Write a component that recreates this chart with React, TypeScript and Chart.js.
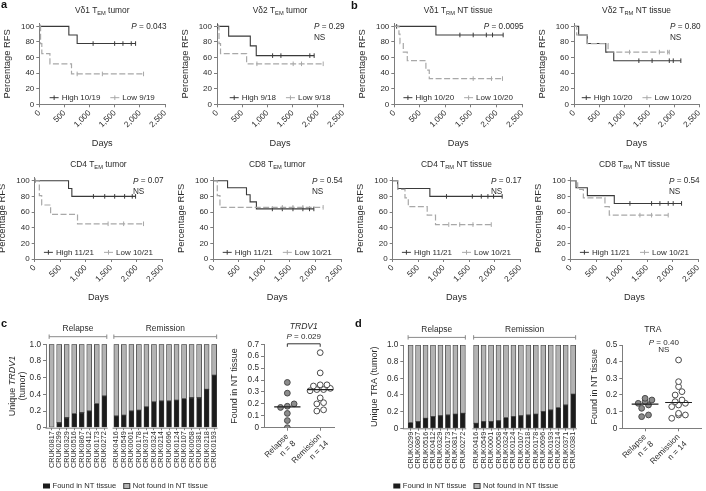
import React, { useEffect, useRef } from 'react';
import { Chart, registerables } from 'chart.js';
Chart.register(...registerables);

const FONT = '"Liberation Sans", Arial, Helvetica, sans-serif';
const TXT = '#2b2b2b';
const AXC = '#7d7d7d';
const HIGH_C = '#3a3a3a';
const LOW_C = '#a8a8a8';

// ---------- Kaplan–Meier data ----------
const kmXTicks = [0, 500, 1000, 1500, 2000, 2500];
const kmYTicks = [0, 20, 40, 60, 80, 100];

const a1HighDays = [0, 587, 752, 1913];
const a1HighPct = [100, 89, 78, 78];
const a1HighCens = [1069, 1497, 1662, 1827, 1913];
const a1LowDays = [0, 25, 50, 211, 640, 2071];
const a1LowPct = [100, 78, 65, 52, 39, 39];
const a1LowCens = [15, 752, 1253, 2071];

const a2HighDays = [0, 231, 660, 778, 1926];
const a2HighPct = [100, 87.5, 75, 62.5, 62.5];
const a2HighCens = [15, 1102, 1267, 1840, 1926];
const a2LowDays = [0, 40, 70, 587, 2105];
const a2LowPct = [100, 78, 65, 52, 52];
const a2LowCens = [791, 1510, 1675, 2105];

const b1HighDays = [0, 814, 2129];
const b1HighPct = [100, 89, 89];
const b1HighCens = [46, 1283, 1543, 1800, 1921, 2129];
const b1LowDays = [0, 91, 111, 176, 254, 618, 684, 2116];
const b1LowPct = [100, 90, 78, 67, 56, 44, 33, 33];
const b1LowCens = [1543, 1901, 2116];

const b2HighDays = [0, 93, 264, 635, 794, 2135];
const b2HighPct = [100, 89, 78, 67, 56, 56];
const b2HighCens = [1296, 1560, 1904, 1983, 2135];
const b2LowDays = [0, 53, 264, 681, 1904];
const b2LowPct = [100, 89, 78, 67, 67];
const b2LowCens = [1110, 1706, 1871, 1904];

const a3HighDays = [0, 664, 729, 1979];
const a3HighPct = [100, 90, 80, 80];
const a3HighCens = [1152, 1374, 1569, 1764, 1914, 1979];
const a3LowDays = [0, 91, 137, 312, 840, 2135];
const a3LowPct = [100, 81, 69, 57, 45, 45];
const a3LowCens = [15, 1440, 1745, 2135];

const a4HighDays = [0, 279, 649, 720, 843, 1967];
const a4HighPct = [100, 91, 82, 73, 64, 64];
const a4HighCens = [1155, 1350, 1558, 1752, 1882, 1967];
const a4LowDays = [0, 78, 130, 2148];
const a4LowPct = [100, 81, 66, 66];
const a4LowCens = [1350, 1558, 1752, 2148];

const b3HighDays = [0, 98, 729, 2148];
const b3HighPct = [100, 90, 80, 80];
const b3HighCens = [1055, 1562, 1738, 1868, 1979, 2148];
const b3LowDays = [0, 98, 241, 306, 677, 840, 1934];
const b3LowPct = [100, 89, 78, 67, 56, 44, 44];
const b3LowCens = [1100, 1315, 1575, 1934];

const b4HighDays = [0, 104, 327, 855, 2175];
const b4HighPct = [100, 91, 81, 71, 71];
const b4HighCens = [1162, 1587, 1750, 1913, 2011, 2175];
const b4LowDays = [0, 137, 248, 672, 757, 1913];
const b4LowPct = [100, 89, 78, 67, 56, 56];
const b4LowCens = [1358, 1587, 1913];

// ---------- c / d data ----------
const cRelapseIds = ['CRUK0817', 'CRUK0299', 'CRUK0329', 'CRUK0516', 'CRUK0867', 'CRUK0412', 'CRUK0173', 'CRUK0272'];
const cRelapseFound = [0, 0.06, 0.12, 0.17, 0.18, 0.2, 0.29, 0.38];
const cRemissionIds = ['CRUK0416', 'CRUK0549', 'CRUK0001', 'CRUK0178', 'CRUK0371', 'CRUK0324', 'CRUK0214', 'CRUK0696', 'CRUK0124', 'CRUK0107', 'CRUK0058', 'CRUK0381', 'CRUK0218', 'CRUK0193'];
const cRemissionFound = [0.14, 0.15, 0.2, 0.21, 0.25, 0.31, 0.32, 0.32, 0.33, 0.35, 0.36, 0.36, 0.46, 0.63];

const dRelapseIds = ['CRUK0299', 'CRUK0867', 'CRUK0516', 'CRUK0412', 'CRUK0329', 'CRUK0173', 'CRUK0817', 'CRUK0272'];
const dRelapseFound = [0.07, 0.08, 0.12, 0.14, 0.15, 0.16, 0.17, 0.18];
const dRemissionIds = ['CRUK0416', 'CRUK0549', 'CRUK0001', 'CRUK0058', 'CRUK0324', 'CRUK0124', 'CRUK0107', 'CRUK0218', 'CRUK0178', 'CRUK0696', 'CRUK0193', 'CRUK0214', 'CRUK0371', 'CRUK0381'];
const dRemissionFound = [0.06, 0.08, 0.08, 0.09, 0.13, 0.14, 0.15, 0.16, 0.17, 0.2, 0.22, 0.25, 0.28, 0.41];

const barYTicks = [0, 0.2, 0.4, 0.6, 0.8, 1.0];
const cDotYTicks = [0, 0.1, 0.2, 0.3, 0.4, 0.5, 0.6, 0.7];
const dDotYTicks = [0, 0.1, 0.2, 0.3, 0.4, 0.5];

// ---------- text helpers ----------
type Seg = { t: string; i?: boolean; s?: boolean };
function segFont(seg: Seg, size: number) {
  const sz = seg.s ? size * 0.68 : size;
  return `${seg.i ? 'italic ' : ''}${sz}px ${FONT}`;
}
function measureRich(ctx: any, segs: Seg[], size: number) {
  let w = 0;
  for (const s of segs) { ctx.font = segFont(s, size); w += ctx.measureText(s.t).width; }
  return w;
}
function drawRich(ctx: any, segs: Seg[], x: number, y: number, size: number, align: string, color = TXT) {
  const w = measureRich(ctx, segs, size);
  let cx = align === 'center' ? x - w / 2 : align === 'right' ? x - w : x;
  ctx.fillStyle = color; ctx.textAlign = 'left'; ctx.textBaseline = 'middle';
  for (const s of segs) {
    ctx.font = segFont(s, size);
    ctx.fillText(s.t, cx, s.s ? y + size * 0.3 : y);
    cx += ctx.measureText(s.t).width;
  }
  return w;
}
const f = (size: number, style = 'normal') => ({ family: FONT, size, style });

function frameBox(frame: number[], yw: number, padT: number, padR: number, xh: number) {
  const [l, t, r, b] = frame;
  const cl = Math.floor(l - yw); const ct = Math.floor(t - padT);
  const cw = Math.ceil(r + padR) - cl; const ch = Math.ceil(b + xh) - ct;
  return { cl, ct, cw, ch, yw: l - cl, padT: t - ct, padR: cl + cw - r, xh: ct + ch - b };
}

const commonOpts = { responsive: false, animation: false, events: [], devicePixelRatio: 1 };
const axisBase = (tl = 3) => ({
  grid: { display: true, drawOnChartArea: false, drawTicks: true, tickLength: tl, color: AXC, lineWidth: 1 },
  border: { display: true, color: AXC, width: 1 },
});

// ---------- KM panels ----------
// frame = plot area [left, top(=104%), right, bottom(=0%)]
const kmFrames: any = {
  a1: [39.3, 23.3, 165.7, 104.3], a2: [217, 23.3, 343.3, 104.3],
  b1: [394.3, 23.3, 522.3, 104.3], b2: [574, 23.3, 700, 104.3],
  a3: [34.7, 177.6, 162.7, 259], a4: [213.3, 177.6, 341.7, 259],
  b3: [392.7, 177.6, 520.7, 259], b4: [570.7, 177.6, 698.3, 259],
};

const kmPanels = [
  { key: 'a1', title: [{ t: 'Vδ1 T' }, { t: 'EM', s: true }, { t: ' tumor' }], p: '0.043', ns: false, hl: 'High 10/19', ll: 'Low 9/19', hd: a1HighDays, hp: a1HighPct, hc: a1HighCens, ld: a1LowDays, lp: a1LowPct, lc: a1LowCens },
  { key: 'a2', title: [{ t: 'Vδ2 T' }, { t: 'EM', s: true }, { t: ' tumor' }], p: '0.29', ns: true, hl: 'High 9/18', ll: 'Low 9/18', hd: a2HighDays, hp: a2HighPct, hc: a2HighCens, ld: a2LowDays, lp: a2LowPct, lc: a2LowCens },
  { key: 'b1', title: [{ t: 'Vδ1 T' }, { t: 'RM', s: true }, { t: ' NT tissue' }], p: '0.0095', ns: false, hl: 'High 10/20', ll: 'Low 10/20', hd: b1HighDays, hp: b1HighPct, hc: b1HighCens, ld: b1LowDays, lp: b1LowPct, lc: b1LowCens },
  { key: 'b2', title: [{ t: 'Vδ2 T' }, { t: 'RM', s: true }, { t: ' NT tissue' }], p: '0.80', ns: true, hl: 'High 10/20', ll: 'Low 10/20', hd: b2HighDays, hp: b2HighPct, hc: b2HighCens, ld: b2LowDays, lp: b2LowPct, lc: b2LowCens },
  { key: 'a3', title: [{ t: 'CD4 T' }, { t: 'EM', s: true }, { t: ' tumor' }], p: '0.07', ns: true, hl: 'High 11/21', ll: 'Low 10/21', hd: a3HighDays, hp: a3HighPct, hc: a3HighCens, ld: a3LowDays, lp: a3LowPct, lc: a3LowCens },
  { key: 'a4', title: [{ t: 'CD8 T' }, { t: 'EM', s: true }, { t: ' tumor' }], p: '0.54', ns: true, hl: 'High 11/21', ll: 'Low 10/21', hd: a4HighDays, hp: a4HighPct, hc: a4HighCens, ld: a4LowDays, lp: a4LowPct, lc: a4LowCens },
  { key: 'b3', title: [{ t: 'CD4 T' }, { t: 'RM', s: true }, { t: ' NT tissue' }], p: '0.17', ns: true, hl: 'High 11/21', ll: 'Low 10/21', hd: b3HighDays, hp: b3HighPct, hc: b3HighCens, ld: b3LowDays, lp: b3LowPct, lc: b3LowCens },
  { key: 'b4', title: [{ t: 'CD8 T' }, { t: 'RM', s: true }, { t: ' NT tissue' }], p: '0.54', ns: true, hl: 'High 11/21', ll: 'Low 10/21', hd: b4HighDays, hp: b4HighPct, hc: b4HighCens, ld: b4LowDays, lp: b4LowPct, lc: b4LowCens },
];

function survAt(days: number[], pct: number[], t: number) {
  let v = pct[0];
  for (let i = 0; i < days.length; i++) if (days[i] <= t) v = pct[i];
  return v;
}

function kmBox(p: any) {
  return frameBox(kmFrames[p.key], 40, 24, 7, 47);
}

function kmConfig(p: any) {
  const bx = kmBox(p);
  const hi = p.hd.map((d: number, i: number) => ({ x: d, y: p.hp[i] }));
  const lo = p.ld.map((d: number, i: number) => ({ x: d, y: p.lp[i] }));
  const hiC = p.hc.map((d: number) => ({ x: d, y: survAt(p.hd, p.hp, d) }));
  const loC = p.lc.map((d: number) => ({ x: d, y: survAt(p.ld, p.lp, d) }));
  const cens = (data: any, color: string) => ({
    data, showLine: false, pointStyle: 'line', pointRotation: 90, pointRadius: 2.3,
    pointBorderColor: color, pointBackgroundColor: color, pointBorderWidth: 1, clip: false,
  });
  const plugin = {
    id: 'kmDecor',
    afterDraw(chart: any) {
      const { ctx, chartArea: a, scales } = chart;
      const ys = scales.y;
      ctx.save();
      drawRich(ctx, p.title, (a.left + a.right) / 2, a.top - 12.5, 8.4, 'center');
      const py = ys.getPixelForValue(100) + 0.5;
      const pSegs = [{ t: 'P', i: true }, { t: ' = ' + p.p }];
      const w = measureRich(ctx, pSegs, 8.2);
      drawRich(ctx, pSegs, a.right + 1.5, py, 8.2, 'right');
      if (p.ns) drawRich(ctx, [{ t: 'NS' }], a.right + 1.5 - w, py + 10.5, 8.2, 'left');
      // legend
      const ly = ys.getPixelForValue(8.5);
      const fs = 8;
      const w1 = measureRich(ctx, [{ t: p.hl }], fs);
      const w2 = measureRich(ctx, [{ t: p.ll }], fs);
      const total = 9 + 3 + w1 + 10 + 9 + 3 + w2;
      let x = (a.left + a.right) / 2 - total / 2;
      const sym = (x0: number, color: string) => {
        ctx.strokeStyle = color; ctx.lineWidth = 1; ctx.setLineDash([]);
        ctx.beginPath(); ctx.moveTo(x0, ly); ctx.lineTo(x0 + 9, ly);
        ctx.moveTo(x0 + 4.5, ly - 2.3); ctx.lineTo(x0 + 4.5, ly + 2.3); ctx.stroke();
      };
      sym(x, HIGH_C); x += 12;
      drawRich(ctx, [{ t: p.hl }], x, ly, fs, 'left'); x += w1 + 10;
      sym(x, LOW_C); x += 12;
      drawRich(ctx, [{ t: p.ll }], x, ly, fs, 'left');
      // y tick labels
      for (const v of kmYTicks) drawRich(ctx, [{ t: String(v) }], a.left - 5, ys.getPixelForValue(v), 8, 'right');
      ctx.restore();
    },
  };
  return {
    type: 'line',
    data: {
      datasets: [
        { data: lo, borderColor: LOW_C, borderWidth: 1.2, borderDash: [6, 2.5], stepped: 'before', pointRadius: 0, fill: false, clip: false },
        { data: hi, borderColor: HIGH_C, borderWidth: 1.1, stepped: 'before', pointRadius: 0, fill: false, clip: false },
        cens(loC, LOW_C),
        cens(hiC, HIGH_C),
      ],
    },
    options: {
      ...commonOpts,
      layout: { padding: { top: bx.padT, right: bx.padR, left: 0, bottom: 0 } },
      plugins: { legend: { display: false }, tooltip: { enabled: false } },
      scales: {
        x: {
          type: 'linear', min: 0, max: 2500, ...axisBase(3),
          afterBuildTicks: (s: any) => { s.ticks = kmXTicks.map((v) => ({ value: v })); },
          ticks: { autoSkip: false, minRotation: 45, maxRotation: 45, padding: 1, color: TXT, font: f(8.1), callback: (v: any) => Number(v).toLocaleString('en-US') },
          title: { display: true, text: 'Days', color: TXT, font: f(9.2), padding: { top: 0, bottom: 3 } },
          afterFit: (s: any) => { s.height = bx.xh; },
        },
        y: {
          type: 'linear', min: 0, max: 104, ...axisBase(3),
          afterBuildTicks: (s: any) => { s.ticks = kmYTicks.map((v) => ({ value: v })); },
          ticks: { display: false, autoSkip: false },
          title: { display: true, text: 'Percentage RFS', color: TXT, font: f(9.4), padding: { top: 3, bottom: 0 } },
          afterFit: (s: any) => { s.width = bx.yw; },
        },
      },
    },
    plugins: [plugin],
  };
}

// ---------- stacked bar panels ----------
const barPanels = [
  {
    key: 'c', relIds: cRelapseIds, relVals: cRelapseFound, remIds: cRemissionIds, remVals: cRemissionFound,
    gap: 1.6, xMin: -0.75, xMax: 22.05, frame: [46, 344.3, 219.7, 427.7], yw: 46,
    ytitle: [[{ t: 'Unique ' }, { t: 'TRDV1', i: true }], [{ t: '(tumor)' }]], ytitleDx: [-33.5, -23.5], legendDx: -3,
  },
  {
    key: 'd', relIds: dRelapseIds, relVals: dRelapseFound, remIds: dRemissionIds, remVals: dRemissionFound,
    gap: 1.78, xMin: -0.98, xMax: 22.28, frame: [403.3, 345, 578.2, 428.3], yw: 44,
    ytitle: [[{ t: 'Unique TRA (tumor)' }]], ytitleDx: [-28.5], legendDx: -10,
  },
];

function barPositions(p: any) {
  const rel = p.relIds.map((_: any, i: number) => i);
  const rem = p.remIds.map((_: any, j: number) => p.relIds.length - 1 + p.gap + j);
  return { rel, rem, all: [...rel, ...rem] };
}
function barBox(p: any) {
  return frameBox(p.frame, p.yw, 23, 4, 491 - p.frame[3]);
}

function barConfig(p: any) {
  const bx = barBox(p);
  const pos = barPositions(p);
  const ids = [...p.relIds, ...p.remIds];
  const vals = [...p.relVals, ...p.remVals];
  const labelAt = (v: number) => {
    let best = 0;
    pos.all.forEach((q: number, k: number) => { if (Math.abs(q - v) < Math.abs(pos.all[best] - v)) best = k; });
    return ids[best];
  };
  const plugin = {
    id: 'barDecor',
    afterDraw(chart: any) {
      const { ctx, chartArea: a, scales } = chart;
      const xs = scales.x;
      ctx.save();
      ctx.strokeStyle = AXC; ctx.lineWidth = 1;
      // broken x axis
      const yb = a.bottom + 0.5;
      const lastRel = pos.rel[pos.rel.length - 1];
      const firstRem = pos.rem[0];
      ctx.beginPath();
      ctx.moveTo(a.left - 0.5, yb); ctx.lineTo(xs.getPixelForValue(lastRel + 0.45), yb);
      ctx.moveTo(xs.getPixelForValue(firstRem - 0.5), yb); ctx.lineTo(a.right, yb);
      ctx.stroke();
      // group brackets
      const by = a.top - 7.6;
      const groups = [
        { name: 'Relapse', from: pos.rel[0], to: lastRel },
        { name: 'Remission', from: firstRem, to: pos.rem[pos.rem.length - 1] },
      ];
      ctx.strokeStyle = '#8a8a8a';
      for (const g of groups) {
        const x1 = xs.getPixelForValue(g.from) - 2.5;
        const x2 = xs.getPixelForValue(g.to) + 2.5;
        ctx.beginPath();
        ctx.moveTo(x1, by); ctx.lineTo(x2, by);
        ctx.moveTo(x1, by - 2.2); ctx.lineTo(x1, by + 2.2);
        ctx.moveTo(x2, by - 2.2); ctx.lineTo(x2, by + 2.2);
        ctx.stroke();
        drawRich(ctx, [{ t: g.name }], (x1 + x2) / 2, by - 8, 8.4, 'center');
      }
      // y title
      const yc = (a.top + a.bottom) / 2;
      p.ytitle.forEach((line: Seg[], k: number) => {
        ctx.save();
        ctx.translate(a.left + p.ytitleDx[k], yc);
        ctx.rotate(-Math.PI / 2);
        drawRich(ctx, line, 0, 0, 9, 'center');
        ctx.restore();
      });
      // legend
      const ly = chart.height - 5;
      const fs = 7.6;
      let x = a.left + p.legendDx;
      ctx.fillStyle = '#1c1c1c';
      ctx.fillRect(x, ly - 2.5, 7, 5);
      x += 9.5;
      x += drawRich(ctx, [{ t: 'Found in NT tissue' }], x, ly, fs, 'left') + 7;
      ctx.fillStyle = '#b3b3b3'; ctx.strokeStyle = '#444';
      ctx.fillRect(x, ly - 2.5, 7, 5); ctx.strokeRect(x + 0.5, ly - 2.5, 6, 5);
      x += 9.5;
      drawRich(ctx, [{ t: 'Not found in NT tissue' }], x, ly, fs, 'left');
      ctx.restore();
    },
  };
  const ds = (data: any, bg: string) => ({
    data, backgroundColor: bg, borderColor: '#3a3a3a', borderWidth: 0.8, barThickness: 5, borderSkipped: false,
  });
  return {
    type: 'bar',
    data: {
      datasets: [
        ds(pos.all.map((q: number, k: number) => ({ x: q, y: vals[k] })), '#1c1c1c'),
        ds(pos.all.map((q: number, k: number) => ({ x: q, y: 1 - vals[k] })), '#b3b3b3'),
      ],
    },
    options: {
      ...commonOpts,
      layout: { padding: { top: bx.padT, right: bx.padR, left: 0, bottom: 0 } },
      plugins: { legend: { display: false }, tooltip: { enabled: false } },
      scales: {
        x: {
          type: 'linear', stacked: true, offset: false, min: p.xMin, max: p.xMax,
          grid: { display: true, offset: false, drawOnChartArea: false, drawTicks: true, tickLength: 2.5, color: AXC },
          border: { display: false },
          afterBuildTicks: (s: any) => { s.ticks = pos.all.map((v: number) => ({ value: v })); },
          ticks: { autoSkip: false, minRotation: 90, maxRotation: 90, padding: 1, color: TXT, font: f(7.3), callback: (v: any) => labelAt(Number(v)) },
          afterFit: (s: any) => { s.height = bx.xh; },
        },
        y: {
          type: 'linear', stacked: true, min: 0, max: 1, ...axisBase(3),
          afterBuildTicks: (s: any) => { s.ticks = barYTicks.map((v) => ({ value: v })); },
          ticks: { autoSkip: false, padding: 2, color: TXT, font: f(8.2), callback: (v: any) => (Number(v) === 0 ? '0' : Number(v).toFixed(1)) },
          afterFit: (s: any) => { s.width = bx.yw; },
        },
      },
    },
    plugins: [plugin],
  };
}

// ---------- dot panels ----------
const dotPanels = [
  {
    key: 'c', rel: cRelapseFound, rem: cRemissionFound, yMax: 0.7, yTicks: cDotYTicks,
    frame: [264, 344.3, 336.4, 427.7], xMin: 0.29, xMax: 2.42, yw: 36.5,
    title: [{ t: 'TRDV1', i: true }], titleDx: 0, titleDy: -17.6, p: '0.029', pDx: 0, pDy: -7.6, ns: false, bracket: true,
  },
  {
    key: 'd', rel: dRelapseFound, rem: dRemissionFound, yMax: 0.5, yTicks: dDotYTicks,
    frame: [622.3, 345, 702.9, 428.3], xMin: 0.32, xMax: 2.67, yw: 35,
    title: [{ t: 'TRA' }], titleDx: -9, titleDy: -15, p: '0.40', pDx: 2, pDy: -2.5, ns: true, bracket: false,
  },
];

function median(v: number[]) {
  const s = [...v].sort((a, b) => a - b);
  const m = Math.floor(s.length / 2);
  return s.length % 2 ? s[m] : (s[m - 1] + s[m]) / 2;
}

function swarm(vals: number[], center: number, pxX: number, pxY: number) {
  const sorted = [...vals].sort((a, b) => a - b);
  const bins: number[][] = [];
  for (const v of sorted) {
    const last = bins[bins.length - 1];
    if (last && (v - last[0]) * pxY <= 4) last.push(v); else bins.push([v]);
  }
  const out: any[] = [];
  for (const b of bins) b.forEach((v, k) => out.push({ x: center + ((k - (b.length - 1) / 2) * 7) / pxX, y: v }));
  return out;
}

function dotBox(p: any) {
  return frameBox(p.frame, p.yw, 25, 2.5, 491 - p.frame[3]);
}

function dotConfig(p: any) {
  const bx = dotBox(p);
  const [l, t, r, b] = p.frame;
  const pxX = (r - l) / (p.xMax - p.xMin);
  const pxY = (b - t) / p.yMax;
  const mRel = median(p.rel); const mRem = median(p.rem);
  const plugin = {
    id: 'dotDecor',
    afterDraw(chart: any) {
      const { ctx, chartArea: a, scales } = chart;
      const x1 = scales.x.getPixelForValue(1); const x2 = scales.x.getPixelForValue(2);
      const cx = (x1 + x2) / 2;
      ctx.save();
      drawRich(ctx, p.title, cx + p.titleDx, a.top + p.titleDy, 8.6, 'center');
      drawRich(ctx, [{ t: 'P', i: true }, { t: ' = ' + p.p }], cx + p.pDx, a.top + p.pDy, 8, 'center');
      if (p.ns) drawRich(ctx, [{ t: 'NS' }], cx + p.pDx, a.top + p.pDy + 7.5, 8, 'center');
      if (p.bracket) {
        ctx.strokeStyle = '#333'; ctx.lineWidth = 1;
        const y = a.top - 0.5;
        ctx.beginPath();
        ctx.moveTo(x1, y + 3); ctx.lineTo(x1, y); ctx.lineTo(x2, y); ctx.lineTo(x2, y + 3);
        ctx.stroke();
      }
      ctx.restore();
    },
  };
  const pts = (data: any, bg: string) => ({
    data, pointRadius: 2.9, pointBackgroundColor: bg, pointBorderColor: '#4a4a4a', pointBorderWidth: 1, showLine: false,
  });
  const med = (c: number, m: number) => ({
    data: [{ x: c - 0.4, y: m }, { x: c + 0.4, y: m }], showLine: true, borderColor: '#1e1e1e', borderWidth: 1.2, pointRadius: 0,
  });
  return {
    type: 'scatter',
    data: {
      datasets: [
        med(1, mRel), med(2, mRem),
        pts(swarm(p.rel, 1, pxX, pxY), '#8c8c8c'),
        pts(swarm(p.rem, 2, pxX, pxY), '#ffffff'),
      ],
    },
    options: {
      ...commonOpts,
      layout: { padding: { top: bx.padT, right: bx.padR, left: 0, bottom: 0 } },
      plugins: { legend: { display: false }, tooltip: { enabled: false } },
      scales: {
        x: {
          type: 'linear', min: p.xMin, max: p.xMax, ...axisBase(3),
          afterBuildTicks: (s: any) => { s.ticks = [1, 2].map((v) => ({ value: v })); },
          ticks: {
            autoSkip: false, minRotation: 45, maxRotation: 45, padding: 1, color: TXT, font: f(8.2),
            callback: (v: any) => (Number(v) === 1 ? ['Relapse', `n = ${p.rel.length}`] : ['Remission', `n = ${p.rem.length}`]),
          },
          afterFit: (s: any) => { s.height = bx.xh; },
        },
        y: {
          type: 'linear', min: 0, max: p.yMax, ...axisBase(3),
          afterBuildTicks: (s: any) => { s.ticks = p.yTicks.map((v: number) => ({ value: v })); },
          ticks: { autoSkip: false, padding: 2, color: TXT, font: f(8.2), callback: (v: any) => (Number(v) === 0 ? '0' : Number(v).toFixed(1)) },
          title: { display: true, text: 'Found in NT tissue', color: TXT, font: f(9), padding: { top: 2, bottom: 0 } },
          afterFit: (s: any) => { s.width = bx.yw; },
        },
      },
    },
    plugins: [plugin],
  };
}

// ---------- React ----------
function ChartBox({ box, make }: any) {
  const ref = useRef<HTMLCanvasElement | null>(null);
  useEffect(() => {
    const chart = new Chart(ref.current as any, make() as any);
    return () => chart.destroy();
  }, []);
  return (
    <canvas
      ref={ref}
      width={box.cw}
      height={box.ch}
      style={{ position: 'absolute', left: box.cl, top: box.ct, width: box.cw, height: box.ch }}
    />
  );
}

const letterStyle = (left: number, top: number): any => ({
  position: 'absolute', left, top, fontFamily: FONT, fontWeight: 'bold', fontSize: 11, color: '#111', lineHeight: '12px',
});

export default function App() {
  return (
    <div style={{ position: 'absolute', left: 0, top: 0, width: 706, height: 491, background: '#fff', overflow: 'hidden' }}>
      {kmPanels.map((p) => (
        <ChartBox key={p.key} box={kmBox(p)} make={() => kmConfig(p)} />
      ))}
      {barPanels.map((p) => (
        <ChartBox key={'bar' + p.key} box={barBox(p)} make={() => barConfig(p)} />
      ))}
      {dotPanels.map((p) => (
        <ChartBox key={'dot' + p.key} box={dotBox(p)} make={() => dotConfig(p)} />
      ))}
      <div style={letterStyle(1, -2)}>a</div>
      <div style={letterStyle(351, -1)}>b</div>
      <div style={letterStyle(1, 317)}>c</div>
      <div style={letterStyle(355, 317)}>d</div>
    </div>
  );
}
